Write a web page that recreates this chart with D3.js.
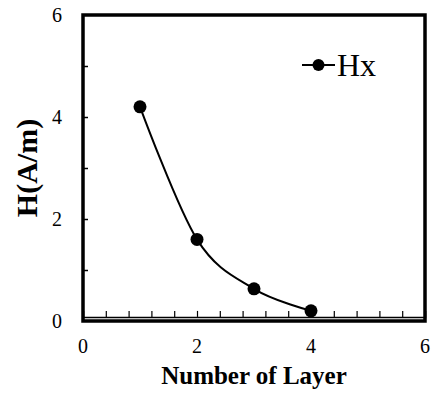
<!DOCTYPE html>
<html><head><meta charset="utf-8">
<script src="https://cdn.jsdelivr.net/npm/d3@7"></script>
<style>
html,body{margin:0;padding:0;background:#fff;}
svg{display:block;}
text{font-family:"Liberation Serif","Times New Roman",serif;fill:#000;}
</style></head>
<body>
<svg id="chart" width="434" height="395"></svg>
<script>
const layers = [1, 2, 3, 4];
const hx = [4.2, 1.6, 0.63, 0.2];
const xTicks = [0, 2, 4, 6];
const yTicks = [0, 2, 4, 6];
const xMinorTicks = [0.4,0.8,1.2,1.6,2.0,2.4,2.8,3.2,3.6,4.0,4.4,4.8,5.2,5.6];
const yMinorTicks = [1, 2, 3, 4, 5];
const seriesName = "Hx";
const xTitle = "Number of Layer";
const yTitle = "H(A/m)";
const baseLineValue = 0.08;

const svg = d3.select("#chart");
const m = {left: 83, right: 9, top: 15, bottom: 74};
const W = 434, H = 395;
const x = d3.scaleLinear().domain([0, 6]).range([m.left, W - m.right]);
const y = d3.scaleLinear().domain([0, 6]).range([H - m.bottom, m.top]);

// frame
svg.append("rect")
  .attr("x", x(0)).attr("y", y(6))
  .attr("width", x(6) - x(0)).attr("height", y(0) - y(6))
  .attr("fill", "none").attr("stroke", "#000").attr("stroke-width", 3.5);

// thin baseline axis with upward ticks
const xAxis = d3.axisTop(x).tickValues(xMinorTicks).tickSize(6).tickFormat("");
const gx = svg.append("g").attr("transform", `translate(0,${y(baseLineValue)})`).call(xAxis);
gx.select(".domain").attr("stroke", "#000").attr("stroke-width", 1.5);
gx.selectAll(".tick line").attr("stroke", "#000").attr("stroke-width", 1.2);

// y inward ticks
const yAxis = d3.axisRight(y).tickValues(yMinorTicks).tickSize(5).tickFormat("");
const gy = svg.append("g").attr("transform", `translate(${x(0)},0)`).call(yAxis);
gy.select(".domain").remove();
gy.selectAll(".tick line").attr("stroke", "#000").attr("stroke-width", 1.5);

// y tick labels
svg.append("g").selectAll("text").data(yTicks).join("text")
  .attr("x", x(0) - 21).attr("y", d => y(d) + 7)
  .attr("text-anchor", "end").attr("font-size", 20).text(d => d);

// x tick labels
svg.append("g").selectAll("text").data(xTicks).join("text")
  .attr("x", d => x(d)).attr("y", y(0) + 32)
  .attr("text-anchor", "middle").attr("font-size", 20).text(d => d);

// titles
svg.append("text")
  .attr("x", (x(0) + x(6)) / 2).attr("y", y(0) + 63)
  .attr("text-anchor", "middle").attr("font-size", 25).attr("font-weight", "bold")
  .text(xTitle);
svg.append("text")
  .attr("transform", `translate(37,${(y(0) + y(6)) / 2}) rotate(-90)`)
  .attr("text-anchor", "middle").attr("font-size", 30).attr("font-weight", "bold")
  .text(yTitle);

// series
const pts = layers.map((l, i) => [l, hx[i]]);
const line = d3.line().x(d => x(d[0])).y(d => y(d[1])).curve(d3.curveCardinal.tension(0));
svg.append("path").datum(pts).attr("d", line)
  .attr("fill", "none").attr("stroke", "#000").attr("stroke-width", 2);
svg.append("g").selectAll("circle").data(pts).join("circle")
  .attr("cx", d => x(d[0])).attr("cy", d => y(d[1])).attr("r", 6.5).attr("fill", "#000");

// legend
const lg = svg.append("g").attr("transform", "translate(302,65)");
lg.append("line").attr("x1", 0).attr("x2", 33).attr("y1", 0).attr("y2", 0)
  .attr("stroke", "#000").attr("stroke-width", 2);
lg.append("circle").attr("cx", 16.5).attr("cy", 0).attr("r", 6).attr("fill", "#000");
lg.append("text").attr("x", 35).attr("y", 11).attr("font-size", 32).text(seriesName);
</script>
</body></html>
